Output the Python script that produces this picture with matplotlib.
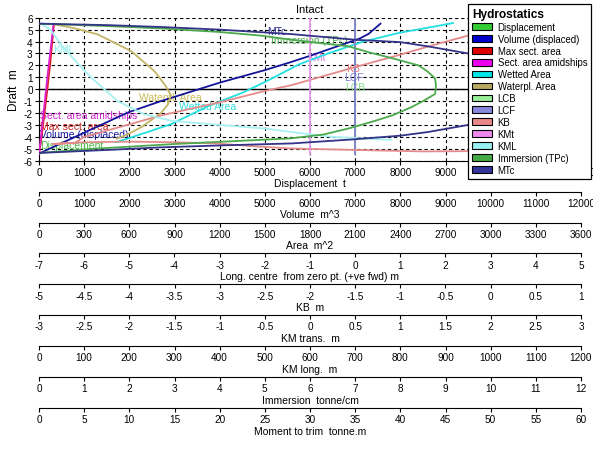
import numpy as np
import matplotlib
matplotlib.use('Agg')
import matplotlib.pyplot as plt
from matplotlib.patches import Patch

plt.rcParams['font.family'] = ['Liberation Sans', 'DejaVu Sans']
plt.rcParams['axes.unicode_minus'] = False

# ---------------- data (each series in its own units) ----------------
# Volume (displaced) m^3
vol_draft = [-5.4, -3.65, -1.96, -1.0, 0.55, 1.6, 2.25, 2.8, 4.25, 4.65, 5.5]
vol_vals = [0, 1000, 1963, 2700, 4000, 5000, 5556, 6000, 7100, 7300, 7560]

# Areas m^2
wet_draft = [-4.45, -4.1, -2.93, -1.43, -0.3, 0.6, 2.1, 3.0, 4.0, 4.75, 5.2, 5.55]
wet_vals = [510, 600, 878, 1122, 1350, 1500, 1730, 1920, 2155, 2400, 2600, 2750]
wpa_draft = [5.45, 5.1, 4.6, 3.2, 1.5, 0.3, -0.5, -1.3, -2.0, -3.2, -3.9, -4.15]
wpa_vals = [99, 240, 390, 612, 768, 840, 876, 855, 810, 678, 570, 516]
amid_draft = [-5.45, -2.0, 1.5, 5.3]
amid_vals = [0, 30, 60, 95]
maxs_draft = [-5.4, -4.5, -3.0, -0.5, 2.2, 5.45]
maxs_vals = [0, 12, 27, 51, 75, 99]

# Long. centre m
lc_draft = [-5.4, 6.0]
lcb_vals = [0, 0]
lcf_vals = [0, 0]

# KB m
kb_draft = [-5.2, -5.2, -5.22, -5.1, -4.97, -4.8, -4.55, -4.45, -4.4, -4.45, -4.6,
            -4.5, -4.0, -2.95, -2.2, -1.1, -0.15, 0.35, 1.75, 2.9, 3.63, 4.5, 5.0]
kb_vals = [0.0, -0.25, -0.75, -1.5, -2.22, -2.6, -3.05, -3.5, -4.0, -4.5, -4.85,
           -4.6, -4.5, -4.0, -3.65, -3.0, -2.5, -2.2, -1.55, -1.0, -0.67, -0.25, 0.0]

# KM trans m
kmt_draft = [-5.4, 6.0]
kmt_vals = [0, 0]

# KM long m
kml_draft = [5.5, 5.0, 3.6, 2.4, 1.0, -1.0, -2.1, -2.65, -3.0, -3.3, -3.65, -4.0, -4.25]
kml_vals = [5, 25, 52, 80, 115, 174, 233, 293, 400, 500, 570, 650, 780]

# Immersion tonne/cm
tpc_draft = [-5.35, -5.0, -4.6, -4.13, -3.8, -3.3, -2.7, -2.2, -1.5, -1.0, -0.4, 0.3,
             0.9, 1.5, 2.0, 2.6, 3.1, 3.6, 4.1, 4.5, 4.8, 5.1, 5.3, 5.5]
tpc_vals = [0, 1.2, 3.0, 5.56, 6.3, 6.85, 7.4, 7.82, 8.25, 8.5, 8.77, 8.79,
            8.77, 8.6, 8.4, 7.82, 7.3, 6.85, 5.7, 4.9, 4.0, 2.7, 1.5, 0]

# Moment to trim tonne.m
mtc_draft = [5.5, 5.38, 5.22, 5.0, 4.62, 4.15, 3.95, 3.6, 3.0, 2.6,
             -2.6, -3.0, -3.6, -3.9, -4.2, -4.55, -4.72, -4.88, -5.1, -5.35]
mtc_vals = [0, 7.5, 13.5, 20, 28, 35, 40, 43, 47.5, 50,
            50, 47.5, 43, 40, 35, 28, 20, 13.5, 7.5, 0]

legend_names = ['Displacement', 'Volume (displaced)', 'Max sect. area', 'Sect. area amidships',
                'Wetted Area', 'Waterpl. Area', 'LCB', 'LCF', 'KB', 'KMt', 'KML',
                'Immersion (TPc)', 'MTc']
legend_colors = ['#33cc33', '#0000cc', '#dd0000', '#ee00ee', '#00e6e6', '#b8a860',
                 '#99ee99', '#8888dd', '#e88888', '#ee88ee', '#99f0f0', '#44aa44', '#333399']

# ---------------- layout ----------------
W, H = 593, 456
fig = plt.figure(figsize=(W / 100, H / 100), dpi=100)


def fx(px):
    return px / W


def fy(py):
    return 1 - py / H


L, R = 39, 581
TOP, BOT = 18.7, 161.7
ax = fig.add_axes([fx(L), fy(BOT), fx(R - L), (BOT - TOP) / H])
ax.set_xlim(0, 12000)
ax.set_ylim(-6, 6)
ax.set_xticks(np.arange(0, 12001, 1000))
ax.set_yticks(np.arange(-6, 7, 1))
ax.grid(True, color='black', linestyle=(0, (3, 2.5)), linewidth=0.8)
ax.set_axisbelow(True)
ax.axhline(0, color='black', linewidth=1.0)
for s in ['top', 'right']:
    ax.spines[s].set_visible(False)
ax.tick_params(labelsize=7.2, length=3, pad=1.5)
ax.set_xlabel('Displacement  t', fontsize=7.5, labelpad=1)
ax.set_ylabel('Draft  m', fontsize=8.5, labelpad=3)
ax.set_title('Intact', fontsize=8, pad=4)


def twin(lo, hi):
    t = ax.twiny()
    t.set_xlim(lo, hi)
    t.xaxis.set_visible(False)
    for s in t.spines.values():
        s.set_visible(False)
    return t


ax_vol = twin(0, 12000)
ax_area = twin(0, 3600)
ax_lc = twin(-7, 5)
ax_kb = twin(-5, 1)
ax_kmt = twin(-3, 3)
ax_kml = twin(0, 1200)
ax_tpc = twin(0, 12)
ax_mtc = twin(0, 60)

lw = 1.3
ax_tpc.plot(tpc_vals, tpc_draft, color='#4caa4c', lw=lw)
ax_mtc.plot(mtc_vals, mtc_draft, color='#333388', lw=lw)
ax_kb.plot(kb_vals, kb_draft, color='#e58a8a', lw=lw)
ax_kml.plot(kml_vals, kml_draft, color='#a6f2f2', lw=lw)
ax_area.plot(wpa_vals, wpa_draft, color='#c4b466', lw=lw)
ax_area.plot(wet_vals, wet_draft, color='#22e0e0', lw=lw)
ax_vol.plot(vol_vals, vol_draft, color='#14149a', lw=lw)
ax_area.plot(maxs_vals, maxs_draft, color='#dd2020', lw=lw)
ax_area.plot(amid_vals, amid_draft, color='#dd22cc', lw=lw)
ax_lc.plot(lcb_vals, lc_draft, color='#99e699', lw=lw)
ax_lc.plot(lcf_vals, lc_draft, color='#8080d0', lw=lw)
ax_kmt.plot(kmt_vals, kmt_draft, color='#e699e6', lw=lw)

labels = [
    ('Sect. area amidships', 1090, -2.2, '#cc22cc'),
    ('Max sect. area', 790, -3.06, '#cc2020'),
    ('Volume (displaced)', 1000, -3.76, '#1a1aa0'),
    ('Displacement', 735, -4.65, '#44bb44'),
    ('Waterpl. Area', 2900, -0.68, '#c8bc55'),
    ('Wetted Area', 3740, -1.43, '#33dddd'),
    ('KML', 550, 3.4, '#88eeee'),
    ('MTc', 5270, 4.9, '#333399'),
    ('Immersion (TPc)', 5980, 4.1, '#55aa55'),
    ('KMt', 6150, 2.7, '#dd77dd'),
    ('KB', 6960, 1.8, '#e07070'),
    ('LCF', 6980, 1.0, '#7f7fd0'),
    ('LCB', 7000, 0.2, '#88dd88'),
]
for txt, xx, yy, c in labels:
    ax.text(xx, yy, txt, color=c, fontsize=7.5, ha='center', va='center', zorder=5)

# ---------------- secondary scales ----------------
scales = [
    (np.arange(0, 12001, 1000), 'Volume  m^3'),
    (np.arange(0, 3601, 300), 'Area  m^2'),
    (np.arange(-7, 5.01, 1), 'Long. centre  from zero pt. (+ve fwd) m'),
    (np.arange(-5, 1.01, 0.5), 'KB  m'),
    (np.arange(-3, 3.01, 0.5), 'KM trans.  m'),
    (np.arange(0, 1201, 100), 'KM long.  m'),
    (np.arange(0, 12.01, 1), 'Immersion  tonne/cm'),
    (np.arange(0, 60.01, 5), 'Moment to trim  tonne.m'),
]
step = 30.9
for i, (ticks, lab) in enumerate(scales):
    y = BOT + step * (i + 1)
    a = fig.add_axes([fx(L), fy(y), fx(R - L), 1e-6])
    a.set_xlim(ticks[0], ticks[-1])
    a.set_xticks(ticks)
    a.set_xticklabels(['%g' % t for t in ticks])
    a.set_yticks([])
    for s in ['left', 'right', 'top']:
        a.spines[s].set_visible(False)
    a.patch.set_visible(False)
    a.tick_params(axis='x', length=3, width=0.8, pad=1.5, labelsize=7.2)
    a.set_xlabel(lab, fontsize=7.5, labelpad=1)

# ---------------- legend ----------------
handles = [Patch(facecolor=c, edgecolor='black', linewidth=0.8) for c in legend_colors]
leg = fig.legend(handles, legend_names, loc='upper left',
                 bbox_to_anchor=(fx(468), fy(5)), bbox_transform=fig.transFigure,
                 title='Hydrostatics', title_fontproperties={'weight': 'bold', 'size': 8.6},
                 alignment='left', fontsize=6.9, frameon=True, fancybox=False,
                 edgecolor='black', framealpha=1, borderaxespad=0, borderpad=0.4,
                 handlelength=2.15, handleheight=0.7, handletextpad=0.55,
                 labelspacing=0.2)
leg.get_frame().set_linewidth(0.9)

fig.savefig('out.png', dpi=100)
